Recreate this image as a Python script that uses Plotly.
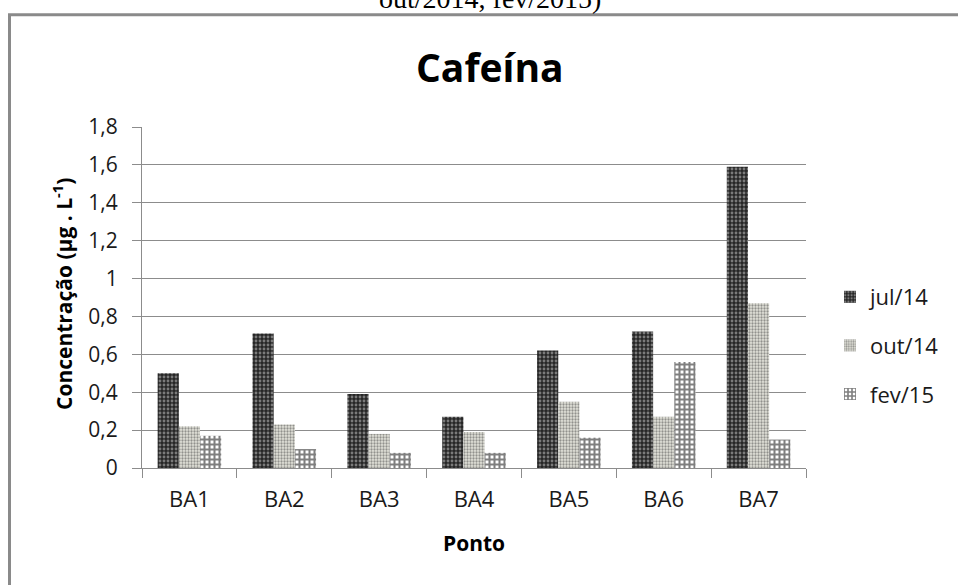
import plotly.graph_objects as go

# Caffeine concentration by sampling point and campaign
pontos = ["BA1", "BA2", "BA3", "BA4", "BA5", "BA6", "BA7"]
jul14 = [0.50, 0.71, 0.39, 0.27, 0.62, 0.72, 1.59]
out14 = [0.22, 0.23, 0.18, 0.19, 0.35, 0.27, 0.87]
fev15 = [0.17, 0.10, 0.08, 0.08, 0.16, 0.56, 0.15]

y_ticks = [0, 0.2, 0.4, 0.6, 0.8, 1.0, 1.2, 1.4, 1.6, 1.8]
y_tick_text = ["0", "0,2", "0,4", "0,6", "0,8", "1", "1,2", "1,4", "1,6", "1,8"]

FONT = "Open Sans"
TXT = "#1a1a1a"

series = [
    ("jul/14", jul14, dict(shape=".", fgcolor="#cfcfcf", bgcolor="#262626", size=4, solidity=0.4)),
    ("out/14", out14, dict(shape=".", fgcolor="#404040", bgcolor="#e2e2da", size=3, solidity=0.45)),
    ("fev/15", fev15, dict(shape="+", fgcolor="#000000", bgcolor="#ffffff", size=5, solidity=0.65)),
]

fig = go.Figure()
for name, vals, pat in series:
    fig.add_trace(go.Bar(
        x=pontos, y=vals, name=name, legendgroup=name,
        marker=dict(color=pat["bgcolor"], pattern=pat, line=dict(width=0)),
    ))

L, R, T, B = 142, 152, 127, 117
W, H = 958, 585
pw, ph = W - L - R, H - T - B


def px_x(x):
    return (x - L) / pw


def px_y(y):
    return (H - B - y) / ph


fig.update_layout(
    width=W, height=H,
    margin=dict(l=L, r=R, t=T, b=B),
    paper_bgcolor="white", plot_bgcolor="white",
    barmode="group", bargap=0.33, bargroupgap=0,
    font=dict(family=FONT, size=20, color=TXT),
    showlegend=True,
    legend=dict(x=px_x(830), y=px_y(276), xanchor="left", yanchor="top",
                font=dict(family=FONT, size=22, color=TXT),
                tracegroupgap=17, itemwidth=30, bgcolor="rgba(0,0,0,0)"),
    xaxis=dict(
        showline=True, linecolor="#8c8c8c", linewidth=1,
        ticks="outside", tickson="boundaries", ticklen=9, tickcolor="#8c8c8c",
        tickfont=dict(family=FONT, size=22, color=TXT),
        ticklabelstandoff=12,
        showgrid=False,
    ),
    yaxis=dict(
        range=[0, 1.8], tickvals=y_ticks, ticktext=y_tick_text,
        showline=True, linecolor="#8c8c8c", linewidth=1,
        ticks="outside", ticklen=9, tickcolor="#8c8c8c",
        showgrid=True, gridcolor="#8c8c8c", gridwidth=1,
        tickfont=dict(family=FONT, size=21, color=TXT),
        ticklabelstandoff=10,
        zeroline=False,
    ),
)

# Outer chart frame
fig.add_shape(type="rect", xref="paper", yref="paper",
              x0=px_x(9.5), x1=px_x(W + 5), y0=px_y(H + 5), y1=px_y(14.7),
              line=dict(color="#8a8a8a", width=3), fillcolor="rgba(0,0,0,0)", layer="below")

# Caption line above the chart
fig.add_annotation(xref="paper", yref="paper", x=px_x(490), y=px_y(-1),
                   text="out/2014, fev/2015)", showarrow=False,
                   xanchor="center", yanchor="middle",
                   font=dict(family="Liberation Serif", size=28, color="#000000"))

# Chart title
fig.add_annotation(xref="paper", yref="paper", x=px_x(490), y=px_y(67),
                   text="<b>Cafeína</b>", showarrow=False,
                   xanchor="center", yanchor="middle",
                   font=dict(family=FONT, size=39, color="#000000"))

# Axis titles
fig.add_annotation(xref="paper", yref="paper", x=px_x(62), y=px_y(294),
                   text="<b>Concentração (µg . L<sup>-1</sup>)</b>", showarrow=False,
                   textangle=-90, xanchor="center", yanchor="middle",
                   font=dict(family=FONT, size=21, color="#000000"))
fig.add_annotation(xref="paper", yref="paper", x=px_x(474), y=px_y(543),
                   text="<b>Ponto</b>", showarrow=False,
                   xanchor="center", yanchor="middle",
                   font=dict(family=FONT, size=21, color="#000000"))

fig.write_html("out.html")
